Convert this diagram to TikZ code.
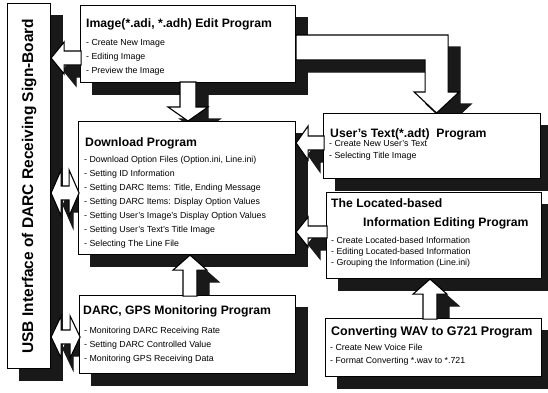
\documentclass[tikz,border=0pt]{standalone}
\usepackage{fontspec}
\setmainfont{Liberation Sans}
\usetikzlibrary{positioning}

\pgfdeclarelayer{shade}
\pgfdeclarelayer{front}
\pgfsetlayers{shade,main,front}

\tikzset{
  prog/.style={draw, line width=1.1pt, fill=white, anchor=north west, inner sep=0pt},
  ttl/.style={font=\bfseries\fontsize{12.2}{19}\selectfont, inner sep=0pt, align=left},
  lst/.style={font=\fontsize{8.8}{#1}\selectfont, inner sep=0pt, align=left},
  lst/.default=13,
  fat/.style 2 args={fill=#1, draw=#2, line width=1.1pt, line join=miter},
  shd/.style={fill=black!90},
  pics/fatarrow/.style n args={4}{code={
    \path[pic actions] (0,0) -- (-#4,-#2) -- (-#4,-#3) -- (-#1,-#3) -- (-#1,#3) -- (-#4,#3) -- (-#4,#2) -- cycle;}},
  pics/dblarrow/.style n args={4}{code={
    \path[pic actions] (0,0) -- (#4,-#2) -- (#4,-#3) -- (#1-#4,-#3) -- (#1-#4,-#2) -- (#1,0) -- (#1-#4,#2) -- (#1-#4,#3) -- (#4,#3) -- (#4,#2) -- cycle;}},
  pics/bentarrow/.style={code={
    \path[pic actions] (0,0) -- (152,0) -- (152,57) -- (163,57) -- (140.5,78) -- (118,57) -- (129,57) -- (129,25) -- (0,25) -- cycle;}}
}

\begin{document}
\begin{tikzpicture}[x=1pt,y=-1pt]
\useasboundingbox (0,0) rectangle (548,392);

\node[prog, minimum width=43pt, minimum height=365pt] (usb) at (7,3) {};
\node[prog, minimum width=215pt, minimum height=77pt] (img) at (80,5) {};
\node[prog, minimum width=217pt, minimum height=133pt] (dl) at (78,121) {};
\node[prog, minimum width=217pt, minimum height=65pt] (ut) at (323,113) {};
\node[prog, minimum width=215pt, minimum height=86pt] (loc) at (326,192) {};
\node[prog, minimum width=216pt, minimum height=78pt] (gps) at (79,295) {};
\node[prog, minimum width=216pt, minimum height=58pt] (wav) at (325,318) {};

\node[rotate=90, font=\bfseries\fontsize{15.5}{18}\selectfont] (usbT) at (usb.center) {USB Interface of DARC Receiving Sign-Board};

\node[ttl, below right=13pt and 6pt of img.north west] (imgT) {Image(*.adi, *.adh) Edit Program};
\node[lst=14, below right=34pt and 6pt of img.north west] (imgL) {- Create New Image\\- Editing Image\\- Preview the Image};

\node[ttl, below right=16pt and 7pt of dl.north west] (dlT) {Download Program};
\node[lst=14, below right=35pt and 6pt of dl.north west] (dlL) {- Download Option Files (Option.ini, Line.ini)\\- Setting ID Information\\- Setting DARC Items: Title, Ending Message\\- Setting DARC Items: Display Option Values\\- Setting User's Image's Display Option Values\\- Setting User's Text's Title Image\\- Selecting The Line File};

\node[ttl, below right=15pt and 7pt of ut.north west] (utT) {User's Text(*.adt)\ \ Program};
\node[lst=12, below right=27pt and 6pt of ut.north west] (utL) {- Create New User's Text\\- Selecting Title Image};

\node[ttl, below right=6pt and 5pt of loc.north west] (locT) {The Located-based\\\hspace*{32pt}Information Editing Program};
\node[lst=11, below right=45pt and 5pt of loc.north west] (locL) {- Create Located-based Information\\- Editing Located-based Information\\- Grouping the Information (Line.ini)};

\node[ttl, below right=10pt and 4pt of gps.north west] (gpsT) {DARC, GPS Monitoring Program};
\node[lst=14, below right=32pt and 5pt of gps.north west] (gpsL) {- Monitoring DARC Receiving Rate\\- Setting DARC Controlled Value\\- Monitoring GPS Receiving Data};

\node[ttl, font=\bfseries\fontsize{12.5}{15}\selectfont, below right=8pt and 6pt of wav.north west] (wavT) {Converting WAV to G721 Program};
\node[lst=13, below right=26pt and 5pt of wav.north west] (wavL) {- Create New Voice File\\- Format Converting *.wav to *.721};

\coordinate (a1) at (usb.east |- 0,58);
\coordinate (a2) at (usb.east |- 0,193);
\coordinate (a3) at (usb.east |- 0,337);
\coordinate (a4) at (188,0 |- dl.north);
\coordinate (a5) at (dl.east |- 0,143);
\coordinate (a6) at (dl.east |- 0,232);
\coordinate (a7) at (190,0 |- dl.south);
\coordinate (a8) at (430,0 |- loc.south);
\coordinate (b0) at (img.east |- 0,35);

\begin{pgfonlayer}{shade}
\foreach \n in {usb,img,dl,ut,loc,gps,wav}
  \fill[shd] ([shift={(12,12)}]\n.north west) rectangle ([shift={(12,12)}]\n.south east);
\end{pgfonlayer}

\foreach \s/\fc/\dc/\lay in {12/black!90/black!90/shade, 0/white/black/front}{
\begin{pgfonlayer}{\lay}
\pic[fat={\fc}{\dc}, rotate=180] at ([shift={(\s,\s)}]a1) {fatarrow={30}{16}{7}{13}};
\pic[fat={\fc}{\dc}] at ([shift={(\s,\s)}]a2) {dblarrow={28}{23}{7}{10}};
\pic[fat={\fc}{\dc}] at ([shift={(\s,\s)}]a3) {dblarrow={29}{21}{7}{10}};
\pic[fat={\fc}{\dc}, rotate=-90] at ([shift={(\s,\s)}]a4) {fatarrow={39}{20}{8}{14}};
\pic[fat={\fc}{\dc}, rotate=180] at ([shift={(\s,\s)}]a5) {fatarrow={28}{17}{7}{12}};
\pic[fat={\fc}{\dc}, rotate=180] at ([shift={(\s,\s)}]a6) {fatarrow={31}{15}{6}{12}};
\pic[fat={\fc}{\dc}, rotate=90] at ([shift={(\s,\s)}]a7) {fatarrow={41}{17}{7}{15}};
\pic[fat={\fc}{\dc}, rotate=90] at ([shift={(\s,\s)}]a8) {fatarrow={40}{17}{7}{15}};
\pic[fat={\fc}{\dc}] at ([shift={(\s,\s)}]b0) {bentarrow};
\end{pgfonlayer}
}

\end{tikzpicture}
\end{document}
